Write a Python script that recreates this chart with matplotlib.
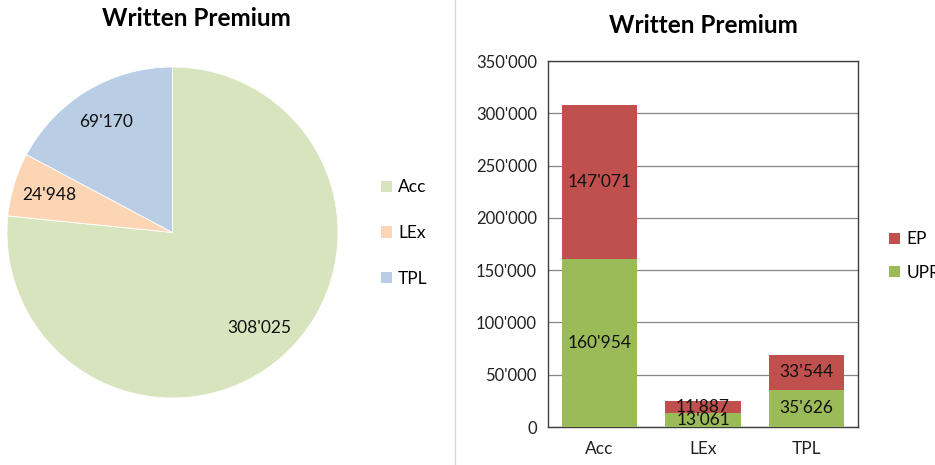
import matplotlib.pyplot as plt
from matplotlib.lines import Line2D
from matplotlib.patches import Patch
from matplotlib.ticker import FuncFormatter

plt.rcParams['font.family'] = ['Lato', 'DejaVu Sans']

# data
lines = ['Acc', 'LEx', 'TPL']
written = [308025, 24948, 69170]
upr = [160954, 13061, 35626]
ep = [147071, 11887, 33544]

pie_colors = ['#D7E4BD', '#FCD5B5', '#B9CDE5']
c_upr = '#9BBB59'
c_ep = '#C0504D'
fs = 12.5


def fmt(v):
    return f'{int(round(v)):,}'.replace(',', "'")


fig = plt.figure(figsize=(9.35, 4.65), dpi=100)

# pie on the left
ax1 = fig.add_axes([7 / 935, 67 / 465, 331 / 935, 331 / 465])
total = sum(written)
ax1.pie(written, colors=pie_colors, startangle=90, counterclock=False,
        autopct=lambda p: fmt(p * total / 100), pctdistance=0.78,
        textprops={'fontsize': fs, 'color': '#111111'},
        wedgeprops={'linewidth': 0.6, 'edgecolor': 'white'})
ax1.set_xlim(-1, 1)
ax1.set_ylim(-1, 1)
ax1.set_aspect('equal')
fig.text(196 / 935, 1 - 18 / 465, 'Written Premium', ha='center', va='center',
         fontsize=17.5, fontweight='bold')
handles = [Patch(facecolor=c, edgecolor='none') for c in pie_colors]
fig.legend(handles, lines, loc='center left', bbox_to_anchor=(365 / 935, 1 - 233 / 465),
           frameon=False, fontsize=fs, handlelength=0.65, handleheight=0.65,
           handletextpad=0.35, labelspacing=1.7)

# separator
fig.add_artist(Line2D([455 / 935, 455 / 935], [0, 1], color='#D9D9D9', lw=1))

# stacked bars on the right
ax2 = fig.add_axes([548 / 935, 38 / 465, 310 / 935, 366 / 465])
x = range(len(lines))
b1 = ax2.bar(x, upr, width=0.73, color=c_upr, label='UPR', zorder=3)
b2 = ax2.bar(x, ep, width=0.73, bottom=upr, color=c_ep, label='EP', zorder=3)
ax2.bar_label(b1, labels=[fmt(v) for v in upr], label_type='center', fontsize=fs, color='#111111')
ax2.bar_label(b2, labels=[fmt(v) for v in ep], label_type='center', fontsize=fs, color='#111111')
ax2.set_xlim(-0.5, 2.5)
ax2.set_ylim(0, 350000)
ax2.set_yticks(range(0, 350001, 50000))
ax2.yaxis.set_major_formatter(FuncFormatter(lambda v, p: fmt(v)))
ax2.set_xticks(list(x))
ax2.set_xticklabels(lines)
ax2.tick_params(axis='both', length=0, labelsize=12, colors='#222222', pad=8)
ax2.tick_params(axis='x', pad=10, labelsize=fs)
ax2.grid(axis='y', color='#868686', lw=0.9, zorder=0)
for s in ax2.spines.values():
    s.set_color('#404040')
    s.set_linewidth(1)
ax2.set_title('Written Premium', fontsize=17.5, fontweight='bold', pad=20)
ax2.legend([b2, b1], ['EP', 'UPR'], loc='center left', bbox_to_anchor=(1.05, 0.467),
           frameon=False, fontsize=fs, handlelength=0.65, handleheight=0.65,
           handletextpad=0.35, labelspacing=1.0)

fig.savefig('out.png', dpi=100)
